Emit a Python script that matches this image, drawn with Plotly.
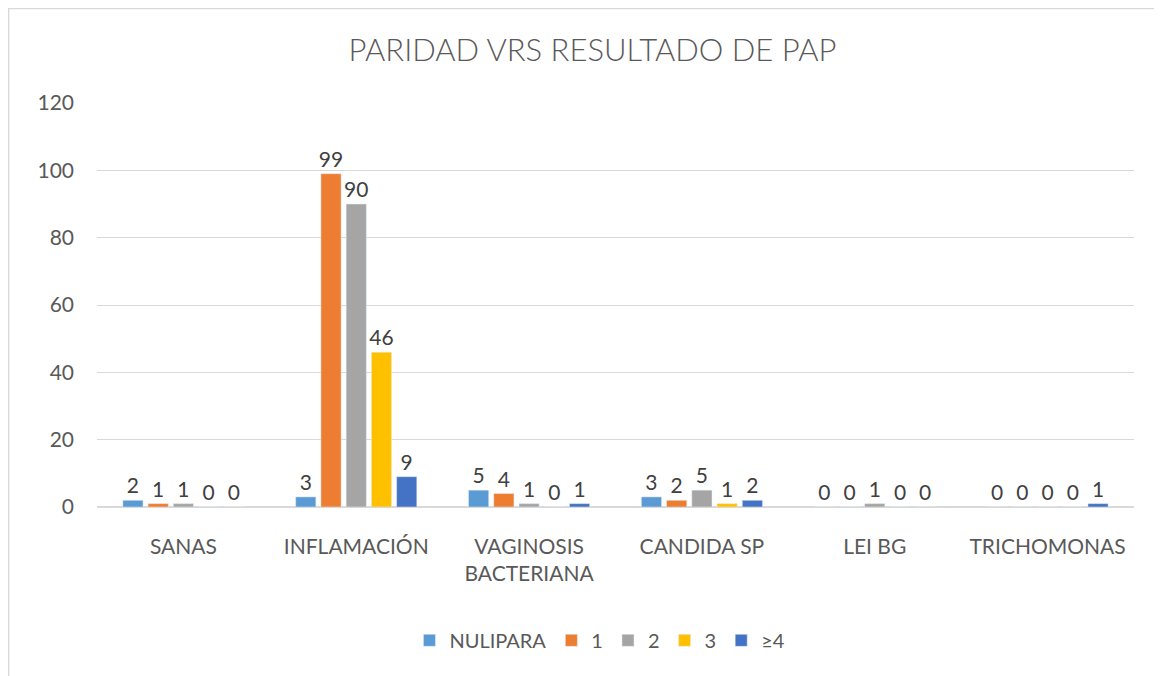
import plotly.graph_objects as go

categories = ["SANAS", "INFLAMACIÓN", "VAGINOSIS<br>BACTERIANA", "CANDIDA SP", "LEI BG", "TRICHOMONAS"]
series_names = ["NULIPARA", "1", "2", "3", "≥4"]
nulipara = [2, 3, 5, 3, 0, 0]
uno = [1, 99, 4, 2, 0, 0]
dos = [1, 90, 1, 5, 1, 0]
tres = [0, 46, 0, 1, 0, 0]
cuatro_mas = [0, 9, 1, 2, 0, 1]
y_ticks = [0, 20, 40, 60, 80, 100, 120]

colors = ["#5B9BD5", "#ED7D31", "#A5A5A5", "#FFC000", "#4472C4"]
values = [nulipara, uno, dos, tres, cuatro_mas]

FONT = "Lato"
fig = go.Figure()
for name, vals, c in zip(series_names, values, colors):
    fig.add_trace(go.Bar(
        x=categories, y=vals, name=name, marker_color=c,
        text=[str(v) for v in vals], textposition="outside",
        constraintext="none",
        textfont=dict(family=FONT, size=21, color="#404040"),
        cliponaxis=False,
    ))

fig.update_layout(
    width=1162, height=676,
    paper_bgcolor="white", plot_bgcolor="white",
    margin=dict(l=89, r=36, t=95, b=177),
    barmode="group", bargap=0.27, bargroupgap=0.2,
    uniformtext=dict(mode=False),
    title=dict(text="PARIDAD VRS RESULTADO DE PAP", x=0.503, xanchor="center",
               y=1 - 42 / 676, yanchor="middle",
               font=dict(family=FONT, size=31, color="#595959", weight=300)),
    font=dict(family=FONT, color="#595959"),
    legend=dict(orientation="h", x=0.485, xanchor="center", y=-0.33, yanchor="middle",
                font=dict(family=FONT, size=20, color="#595959"),
                itemwidth=30, traceorder="normal"),
    shapes=[dict(type="rect", xref="paper", yref="paper",
                 x0=-0.0853, x1=1.025, y0=-0.6, y1=1.234,
                 line=dict(color="#D9D9D9", width=1.5))],
)
fig.update_yaxes(range=[0, 120], tickvals=y_ticks, showgrid=True, gridcolor="#D9D9D9",
                 gridwidth=1, zeroline=True, zerolinecolor="#D9D9D9", showline=False,
                 tickfont=dict(family=FONT, size=21, color="#595959"), ticklen=0,
                 ticks="", ticklabelstandoff=22)
fig.update_xaxes(showline=False, tickfont=dict(family=FONT, size=21, color="#595959"),
                 ticks="", ticklabelstandoff=25)

fig.write_html("out.html")
